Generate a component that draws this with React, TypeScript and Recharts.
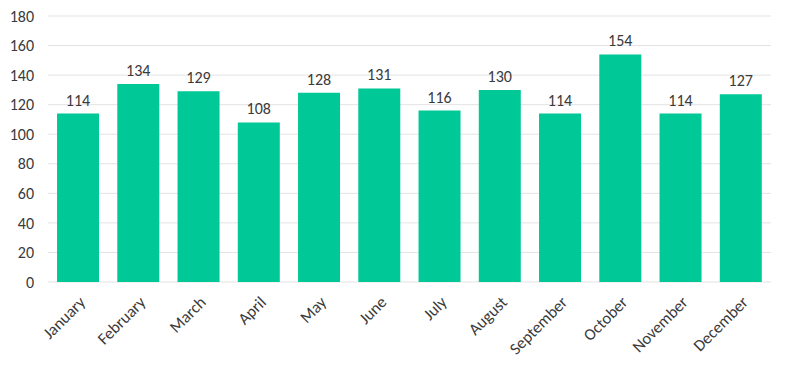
import { Bar, BarChart, CartesianGrid, LabelList, XAxis, YAxis } from "recharts";

const months = [
  "January",
  "February",
  "March",
  "April",
  "May",
  "June",
  "July",
  "August",
  "September",
  "October",
  "November",
  "December",
];
const values = [114, 134, 129, 108, 128, 131, 116, 130, 114, 154, 114, 127];
const yTicks = [0, 20, 40, 60, 80, 100, 120, 140, 160, 180];

const data = months.map((m, i) => ({ month: m, value: values[i] }));

const font = "Carlito, Calibri, 'Open Sans', sans-serif";

const App = () => {
  return (
    <div style={{ position: "absolute", left: 0, top: 0, background: "#fff" }}>
      <BarChart
        width={788}
        height={369}
        data={data}
        margin={{ top: 16, right: 17, left: 0, bottom: 0 }}
        barCategoryGap="15%"
      >
        <CartesianGrid stroke="#e3e3e3" vertical={false} />
        <XAxis
          dataKey="month"
          height={87}
          axisLine={false}
          tickLine={false}
          interval={0}
          angle={-45}
          textAnchor="end"
          tickMargin={7}
          tick={{ fontSize: 16.5, fill: "#3a3a3a", fontFamily: font }}
        />
        <YAxis
          width={48}
          domain={[0, 180]}
          ticks={yTicks}
          axisLine={false}
          tickLine={false}
          tickMargin={8}
          tick={{ fontSize: 16, fill: "#3a3a3a", fontFamily: font }}
        />
        <Bar dataKey="value" fill="#00c896" isAnimationActive={false}>
          <LabelList
            dataKey="value"
            position="top"
            offset={8}
            style={{ fontSize: 16, fill: "#3a3a3a", fontFamily: font }}
          />
        </Bar>
      </BarChart>
    </div>
  );
};

export default App;
